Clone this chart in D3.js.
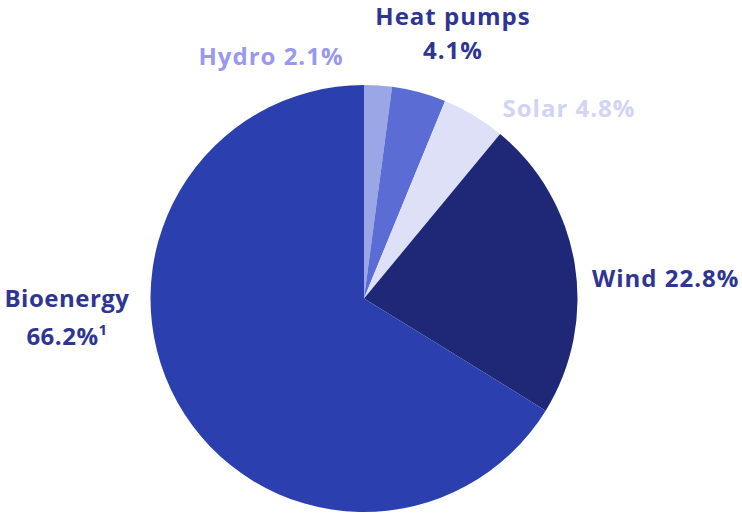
<!DOCTYPE html>
<html><head><meta charset="utf-8">
<script src="https://cdn.jsdelivr.net/npm/d3@7"></script>
<style>body{margin:0;background:#fff}svg{display:block}</style>
</head><body>
<svg id="c" width="742" height="513"></svg>
<script>
const categories = ["Hydro", "Heat pumps", "Solar", "Wind", "Bioenergy"];
const values = [2.1, 4.1, 4.8, 22.8, 66.2];
const sliceColors = ["#9ba6e6", "#5b6dd4", "#dde0f7", "#1e2876", "#2b40ae"];
const labelColors = ["#9898ee", "#2e3592", "#d2d3f5", "#2e3592", "#2e3592"];

const svg = d3.select("#c");
const cx = 364, cy = 298.5, r = 213.5;
const g = svg.append("g").attr("transform", `translate(${cx},${cy})`);
const pie = d3.pie().sort(null).value(d => d.v);
const data = categories.map((c, i) => ({c, v: values[i], i}));
const arcs = pie(data);
const arc = d3.arc().innerRadius(0).outerRadius(r);
g.selectAll("path").data(arcs).enter().append("path")
  .attr("d", arc).attr("fill", d => sliceColors[d.data.i]);

const font = "'Open Sans', sans-serif";
const layout = [
  {x: 271, ys: [65], anchor: "middle", lines: d => [`${d.c} ${d.v}%`]},
  {x: 453, ys: [25, 59], anchor: "middle", lines: d => [d.c, `${d.v}%`]},
  {x: 569, ys: [117], anchor: "middle", lines: d => [`${d.c} ${d.v}%`]},
  {x: 592, ys: [287], anchor: "start", lines: d => [`${d.c} ${d.v}%`]},
  {x: 67, ys: [307, 345], anchor: "middle", lines: d => [d.c, `${d.v}%`], sup: "1"}
];
data.forEach((d, i) => {
  const L = layout[i];
  const lines = L.lines(d);
  lines.forEach((t, k) => {
    const txt = svg.append("text")
      .attr("x", L.x).attr("y", L.ys[k])
      .attr("text-anchor", L.anchor)
      .attr("font-family", font).attr("font-weight", 700)
      .attr("font-size", 24).attr("letter-spacing", i === 4 ? 0.5 : 1)
      .attr("fill", labelColors[i])
      .text(t);
    if (L.sup && k === lines.length - 1) {
      txt.append("tspan").attr("dy", -10).attr("font-size", 15).text(L.sup);
    }
  });
});
</script>
</body></html>
